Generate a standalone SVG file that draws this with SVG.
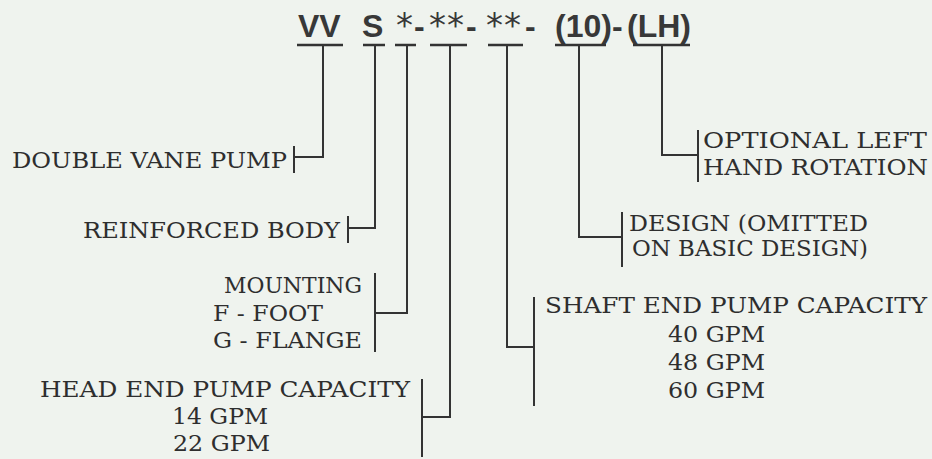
<svg xmlns="http://www.w3.org/2000/svg" width="932" height="459" viewBox="0 0 932 459">
<style>
.bg{fill:#eff3ee}
.hd{font-family:"Liberation Sans",Arial,sans-serif;font-weight:bold;font-size:32px;fill:#383838}
.ast{font-family:"DejaVu Sans",sans-serif;font-weight:normal;font-size:34px}
.lb{font-family:"DejaVu Serif","Liberation Serif",serif;font-size:22px;fill:#2e2e2e}
.ln{stroke:#333;stroke-width:2;fill:none}
.bar{stroke:#333;stroke-width:2.5;fill:none}
</style>
<rect class="bg" x="0" y="0" width="932" height="459"/>
<g id="model-code">
<text class="hd" y="37"><tspan x="298">VV</tspan><tspan x="362">S</tspan><tspan class="ast" x="396">*</tspan><tspan x="414">-</tspan><tspan class="ast" x="429">*</tspan><tspan class="ast" x="447">*</tspan><tspan x="466">-</tspan><tspan class="ast" x="486">*</tspan><tspan class="ast" x="504">*</tspan><tspan x="525">-</tspan><tspan x="555">(10)</tspan><tspan x="612">-</tspan><tspan x="627">(LH)</tspan></text>
<path class="bar" d="M297 45H343M363 45H385M395 45H416M430 45H467M488 45H523M555 45H606M633 45H690"/>
</g>
<g id="connectors">
<path class="ln" d="M323 45V157H294"/>
<path class="ln" d="M375 45V228H348"/>
<path class="ln" d="M407 45V313H375"/>
<path class="ln" d="M450 45V417H422"/>
<path class="ln" d="M507 45V347H534"/>
<path class="ln" d="M579 45V237H622"/>
<path class="ln" d="M662 45V155H698"/>
</g>
<g id="double-vane-pump">
<text class="lb" x="12" y="168" textLength="275" lengthAdjust="spacingAndGlyphs">DOUBLE VANE PUMP</text>
<path class="ln" d="M294 146V173"/>
</g>
<g id="reinforced-body">
<text class="lb" x="83" y="238" textLength="257" lengthAdjust="spacingAndGlyphs">REINFORCED BODY</text>
<path class="ln" d="M348 216V243"/>
</g>
<g id="mounting">
<text class="lb" x="224" y="293" textLength="138" lengthAdjust="spacingAndGlyphs">MOUNTING</text>
<text class="lb" x="213" y="321" textLength="110" lengthAdjust="spacingAndGlyphs">F - FOOT</text>
<text class="lb" x="213" y="348" textLength="149" lengthAdjust="spacingAndGlyphs">G - FLANGE</text>
<path class="ln" d="M375 273V352"/>
</g>
<g id="head-end-capacity">
<text class="lb" x="40" y="397" textLength="370" lengthAdjust="spacingAndGlyphs">HEAD END PUMP CAPACITY</text>
<text class="lb" x="172" y="424" textLength="96" lengthAdjust="spacingAndGlyphs">14 GPM</text>
<text class="lb" x="173" y="451" textLength="97" lengthAdjust="spacingAndGlyphs">22 GPM</text>
<path class="ln" d="M422 379V457"/>
</g>
<g id="shaft-end-capacity">
<text class="lb" x="545" y="313" textLength="382" lengthAdjust="spacingAndGlyphs">SHAFT END PUMP CAPACITY</text>
<text class="lb" x="668" y="342" textLength="97" lengthAdjust="spacingAndGlyphs">40 GPM</text>
<text class="lb" x="668" y="370" textLength="97" lengthAdjust="spacingAndGlyphs">48 GPM</text>
<text class="lb" x="668" y="398" textLength="97" lengthAdjust="spacingAndGlyphs">60 GPM</text>
<path class="ln" d="M534 297V406"/>
</g>
<g id="design">
<text class="lb" x="629" y="231" textLength="239" lengthAdjust="spacingAndGlyphs">DESIGN (OMITTED</text>
<text class="lb" x="632" y="256" textLength="236" lengthAdjust="spacingAndGlyphs">ON BASIC DESIGN)</text>
<path class="ln" d="M622 212V267"/>
</g>
<g id="left-hand-rotation">
<text class="lb" x="703" y="148" textLength="224" lengthAdjust="spacingAndGlyphs">OPTIONAL LEFT</text>
<text class="lb" x="703" y="175" textLength="225" lengthAdjust="spacingAndGlyphs">HAND ROTATION</text>
<path class="ln" d="M698 130V182"/>
</g>
</svg>
